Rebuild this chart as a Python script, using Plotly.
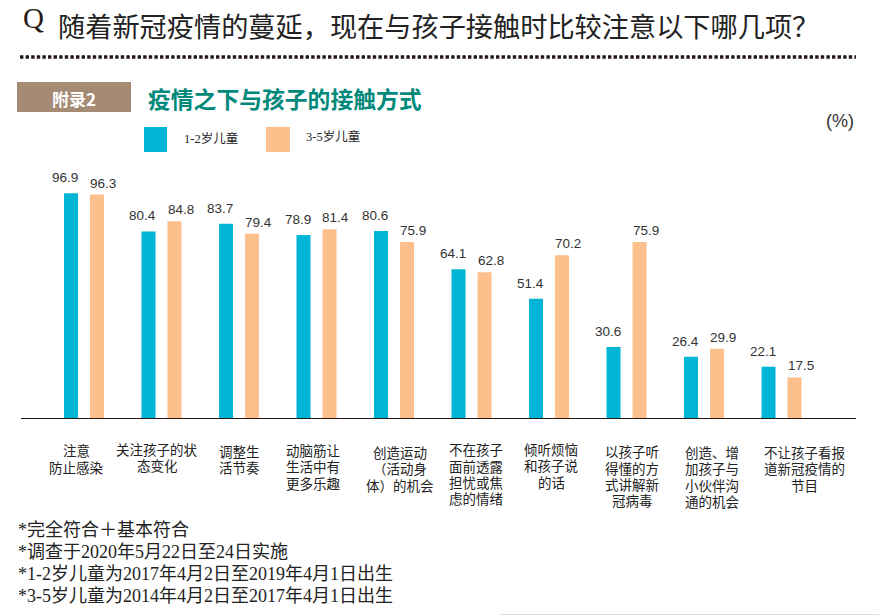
import plotly.graph_objects as go

W, H = 879, 615
categories = ["注意防止感染", "关注孩子的状态变化", "调整生活节奏", "动脑筋让生活中有更多乐趣",
              "创造运动（活动身体）的机会", "不在孩子面前透露担忧或焦虑的情绪", "倾听烦恼和孩子说的话",
              "以孩子听得懂的方式讲解新冠病毒", "创造、增加孩子与小伙伴沟通的机会", "不让孩子看报道新冠疫情的节目"]
category_lines = [["注意", "防止感染"], ["关注孩子的状", "态变化"], ["调整生", "活节奏"],
                  ["动脑筋让", "生活中有", "更多乐趣"], ["创造运动", "（活动身", "体）的机会"],
                  ["不在孩子", "面前透露", "担忧或焦", "虑的情绪"], ["倾听烦恼", "和孩子说", "的话"],
                  ["以孩子听", "得懂的方", "式讲解新", "冠病毒"], ["创造、增", "加孩子与", "小伙伴沟", "通的机会"],
                  ["不让孩子看报", "道新冠疫情的", "节目"]]
age_1_2 = [96.9, 80.4, 83.7, 78.9, 80.6, 64.1, 51.4, 30.6, 26.4, 22.1]
age_3_5 = [96.3, 84.8, 79.4, 81.4, 75.9, 62.8, 70.2, 75.9, 29.9, 17.5]
series_names = ["1-2岁儿童", "3-5岁儿童"]
footnotes = ["*完全符合＋基本符合", "*调查于2020年5月22日至24日实施",
             "*1-2岁儿童为2017年4月2日至2019年4月1日出生",
             "*3-5岁儿童为2014年4月2日至2017年4月1日出生"]
title = "随着新冠疫情的蔓延，现在与孩子接触时比较注意以下哪几项？"
subtitle = "疫情之下与孩子的接触方式"
tag = "附录2"

BLUE, ORANGE = "#00b5d6", "#fdbf8b"
CJK = "'Liberation Serif','Noto Sans CJK SC'"
SANS = "'Liberation Sans','Noto Sans CJK SC'"

label_cx = [76, 157, 239, 313, 400, 476, 551, 632, 712, 804]
label_top = [443, 442, 444, 443, 445, 442, 442, 444, 445, 445]

def px(x): return x / W
def py(y): return 1 - y / H

fig = go.Figure()
fig.add_bar(x=categories, y=age_1_2, name=series_names[0], marker_color=BLUE, marker_line_width=0)
fig.add_bar(x=categories, y=age_3_5, name=series_names[1], marker_color=ORANGE, marker_line_width=0)

ann = []
def text(x, y, s, size, color="#222", family=CJK, xanchor="center", yanchor="middle"):
    ann.append(dict(x=px(x), y=py(y), xref="paper", yref="paper", text=s, showarrow=False,
                    xanchor=xanchor, yanchor=yanchor, align="center",
                    font=dict(size=size, color=color, family=family), borderpad=0))

for cat, a, b in zip(categories, age_1_2, age_3_5):
    for v, shift, lift in ((a, -19, 7), (b, 19, 3)):
        ann.append(dict(x=cat, y=v, xref="x", yref="y", text=f"{v:.1f}", showarrow=False,
                        xshift=shift, yshift=lift, yanchor="bottom", borderpad=0,
                        font=dict(size=13.5, color="#333", family=SANS)))

for lines, cx, top in zip(category_lines, label_cx, label_top):
    for i, line in enumerate(lines):
        text(cx, top + 8 + i * 16.6, line, 13.5, color="#222")

text(57, 28, title, 27.2, xanchor="left")
text(33, 18, "Q", 29, color="#2a1a14", family="'Liberation Serif'")
text(74, 98, tag, 17, color="#fff", family="'Noto Sans CJK SC'")
ann[-1]["text"] = "<b>" + tag + "</b>"
text(147, 98, "<b>" + subtitle + "</b>", 22.8, color="#00897b", family="'Noto Sans CJK SC'", xanchor="left")
text(183, 138, series_names[0], 12.5, xanchor="left")
text(305, 136, series_names[1], 12.5, xanchor="left")
text(840, 121, "(%)", 18, color="#333", family="'Liberation Sans'")
for i, note in enumerate(footnotes):
    text(17, 530 + i * 22, note, 18, xanchor="left")

def rect(x0, y0, x1, y1, color):
    return dict(type="rect", xref="paper", yref="paper", x0=px(x0), x1=px(x1), y0=py(y0), y1=py(y1),
                fillcolor=color, line_width=0, layer="below")

shapes = [
    rect(17, 82, 131, 112, "#a58a74"),
    rect(144, 127, 167, 152, BLUE),
    rect(266, 127, 290, 152, ORANGE),
    dict(type="line", xref="paper", yref="paper", x0=px(20), x1=px(856), y0=py(57), y1=py(57),
         line=dict(color="#231815", width=3.4, dash="3.4px,2.2px")),
    dict(type="line", xref="paper", yref="paper", x0=px(500), x1=px(879), y0=py(614.5), y1=py(614.5),
         line=dict(color="#dddddd", width=1)),
]

fig.update_layout(
    width=W, height=H, autosize=False, margin=dict(l=0, r=0, t=0, b=0),
    paper_bgcolor="white", plot_bgcolor="white", showlegend=False,
    barmode="group", bargap=0.329, bargroupgap=0.4615,
    annotations=ann, shapes=shapes,
    xaxis=dict(domain=[px(21), px(856)], type="category", categoryorder="array", categoryarray=categories,
               range=[-0.813, 9.961], showticklabels=False, ticks="", showgrid=False, zeroline=False,
               showline=True, linecolor="#231815", linewidth=1.4),
    yaxis=dict(domain=[py(418), py(160)], range=[0, 258 / 2.32], visible=False, showgrid=False, zeroline=False),
)
fig.write_html("out.html", config={"displayModeBar": False},
               post_script="document.body.style.margin='0';document.documentElement.style.overflow='hidden';")
